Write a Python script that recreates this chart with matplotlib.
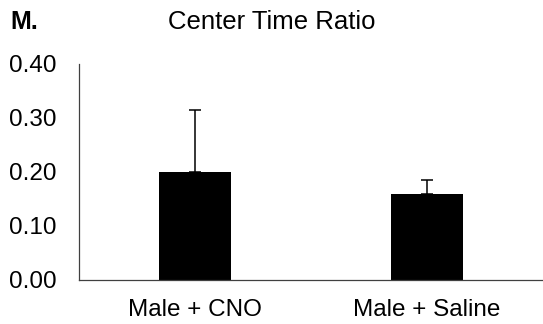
import matplotlib
matplotlib.use("Agg")
import matplotlib.pyplot as plt

# Dados
grupos = ["Male + CNO", "Male + Saline"]
medias = [0.20, 0.16]
erros_sup = [0.115, 0.025]
yticks = [0.00, 0.10, 0.20, 0.30, 0.40]

plt.rcParams.update({
    "font.family": ["Liberation Sans", "DejaVu Sans"],
    "font.size": 17.5,
})

fig = plt.figure(figsize=(5.43, 3.24), dpi=100)
ax = fig.add_axes([79 / 543, 44 / 324, 464 / 543, 216 / 324])

x = range(len(grupos))
ax.bar(x, medias, width=0.31, color="black", zorder=2)
ax.errorbar(x, medias, yerr=[[0] * len(erros_sup), erros_sup], fmt="none",
            ecolor="black", elinewidth=1.1, capsize=4, capthick=1.1, zorder=1)

ax.set_xlim(-0.5, 1.5)
ax.set_ylim(0, 0.40)
ax.set_yticks(yticks)
ax.set_yticklabels([f"{v:.2f}" for v in yticks])
ax.set_xticks(list(x))
ax.set_xticklabels(grupos)
ax.tick_params(axis="y", length=0, pad=16, labelsize=17.5)
ax.tick_params(axis="x", length=0, pad=13.5, labelsize=17.5)

for lado in ("top", "right"):
    ax.spines[lado].set_visible(False)
for lado in ("left", "bottom"):
    ax.spines[lado].set_color("#404040")
    ax.spines[lado].set_linewidth(0.9)

fig.text(0.5, 1 - 22 / 324, "Center Time Ratio", ha="center", va="center", fontsize=18.5)
fig.text(10 / 543, 1 - 22 / 324, "M.", ha="left", va="center", fontsize=18, fontweight="bold")

fig.savefig("out.png", dpi=100)
